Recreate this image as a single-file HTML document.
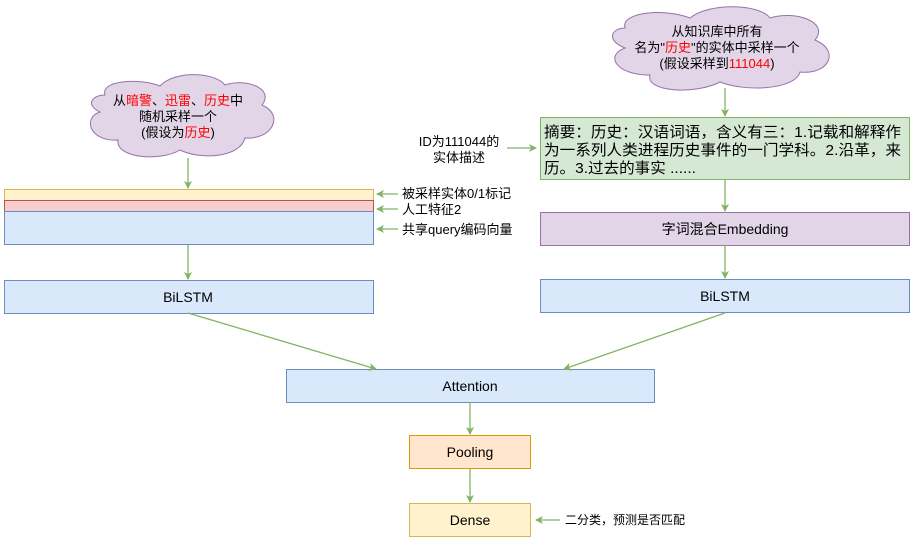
<!DOCTYPE html>
<html><head><meta charset="utf-8"><style>
body{margin:0;width:917px;height:542px;background:#fff;overflow:hidden;font-family:"Liberation Sans","Noto Sans CJK SC",sans-serif;}
svg text{font-family:"Liberation Sans","Noto Sans CJK SC",sans-serif;}
</style></head><body>
<svg width="917" height="542" viewBox="0 0 917 542" xmlns="http://www.w3.org/2000/svg">
<defs><marker id="a" markerWidth="8" markerHeight="8" refX="7" refY="4" orient="auto" markerUnits="userSpaceOnUse"><path d="M0,0 L8,4 L0,8 L2,4 Z" fill="#82b366"/></marker></defs>
<g fill="#e1d5e7" stroke="#9673a6" stroke-width="1">
<path d="M105,95 C100,80 140,78 160,86 C175,70 215,72 225,85 C245,78 275,88 262,105 C285,115 272,140 245,138 C240,158 200,160 180,150 C160,162 115,158 118,140 C90,142 82,118 100,112 C85,105 92,95 105,95 Z"/>
<path d="M625,28 C620,12 665,8 690,18 C710,2 760,4 770,18 C795,10 830,22 815,40 C840,50 830,75 800,72 C795,90 745,92 720,82 C695,95 645,92 650,75 C615,75 605,55 625,48 C605,40 612,28 625,28 Z"/>
</g>
<g font-size="13" text-anchor="middle" fill="#000">
<text x="178" y="105">从<tspan fill="#f00">暗警</tspan>、<tspan fill="#f00">迅雷</tspan>、<tspan fill="#f00">历史</tspan>中</text>
<text x="178" y="121">随机采样一个</text>
<text x="178" y="137">(假设为<tspan fill="#f00">历史</tspan>)</text>
<text x="717" y="36">从知识库中所有</text>
<text x="717" y="52">名为"<tspan fill="#f00">历史</tspan>"的实体中采样一个</text>
<text x="717" y="68">(假设采样到<tspan fill="#f00">111044</tspan>)</text>
</g>
<rect x="4.5" y="189.5" width="369" height="11" fill="#fff2cc" stroke="#d6b656"/>
<rect x="4.5" y="200.5" width="369" height="11" fill="#f8cecc" stroke="#b85450"/>
<rect x="4.5" y="211.5" width="369" height="33" fill="#dae8fc" stroke="#6c8ebf"/>
<rect x="4.5" y="280.5" width="369" height="33" fill="#dae8fc" stroke="#6c8ebf"/>
<rect x="540.5" y="117.5" width="369" height="62" fill="#d5e8d4" stroke="#82b366"/>
<rect x="540.5" y="212.5" width="369" height="33" fill="#e1d5e7" stroke="#9673a6"/>
<rect x="540.5" y="279.5" width="369" height="33" fill="#dae8fc" stroke="#6c8ebf"/>
<rect x="286.5" y="369.5" width="368" height="33" fill="#dae8fc" stroke="#6c8ebf"/>
<rect x="409.5" y="435.5" width="121" height="33" fill="#ffe6cc" stroke="#d79b00"/>
<rect x="409.5" y="503.5" width="121" height="33" fill="#fff2cc" stroke="#d6b656"/>
<g stroke="#82b366" stroke-width="1.3" fill="none" marker-end="url(#a)">
<line x1="188" y1="158" x2="188" y2="188"/>
<line x1="188" y1="245" x2="188" y2="279"/>
<line x1="725" y1="88" x2="725" y2="116"/>
<line x1="725" y1="179" x2="725" y2="211"/>
<line x1="725" y1="245" x2="725" y2="278"/>
<line x1="188" y1="313" x2="376" y2="369"/>
<line x1="725" y1="313" x2="564" y2="369"/>
<line x1="470" y1="402" x2="470" y2="434"/>
<line x1="470" y1="469" x2="470" y2="502"/>
<line x1="507" y1="148" x2="536" y2="148"/>
<line x1="398" y1="194" x2="377" y2="194"/>
<line x1="398" y1="209" x2="377" y2="209"/>
<line x1="398" y1="229" x2="377" y2="229"/>
<line x1="560" y1="520" x2="536" y2="520"/>
</g>
<g font-size="13" fill="#000">
<text x="402" y="198">被采样实体0/1标记</text>
<text x="402" y="214">人工特征2</text>
<text x="402" y="234">共享query编码向量</text>
<text x="459" y="146" text-anchor="middle">ID为111044的</text>
<text x="459" y="162" text-anchor="middle">实体描述</text>
<text x="565" y="524" font-size="12">二分类，预测是否匹配</text>
<text x="544" y="137" font-size="15" textLength="357" lengthAdjust="spacingAndGlyphs">摘要：历史：汉语词语，含义有三：1.记载和解释作</text>
<text x="544" y="155" font-size="15" textLength="357" lengthAdjust="spacingAndGlyphs">为一系列人类进程历史事件的一门学科。2.沿革，来</text>
<text x="544" y="173" font-size="15" textLength="152" lengthAdjust="spacingAndGlyphs">历。3.过去的事实 ......</text>
</g>
<g font-size="14" text-anchor="middle" fill="#000">
<text x="188" y="302">BiLSTM</text>
<text x="725" y="234">字词混合Embedding</text>
<text x="725" y="301">BiLSTM</text>
<text x="470" y="391">Attention</text>
<text x="470" y="457">Pooling</text>
<text x="470" y="525">Dense</text>
</g>
</svg>
</body></html>
